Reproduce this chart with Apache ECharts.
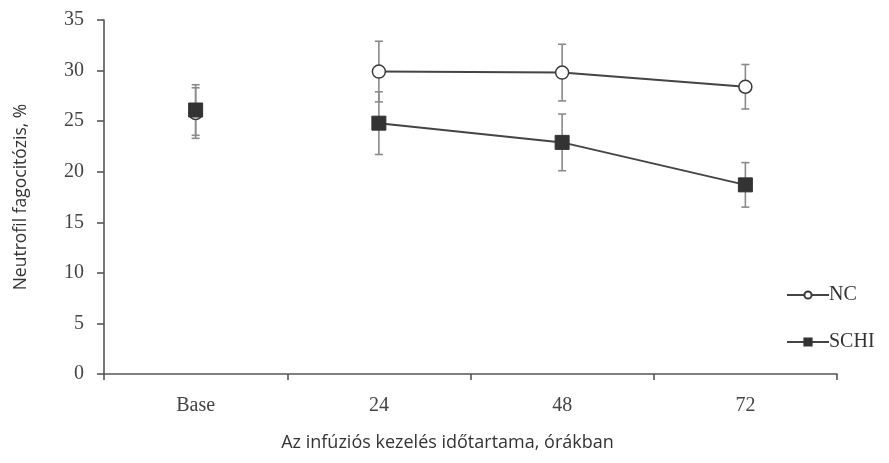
<!DOCTYPE html>
<html>
<head>
<meta charset="utf-8">
<script src="https://cdn.jsdelivr.net/npm/echarts@6/dist/echarts.min.js"></script>
<style>
  html, body { margin: 0; padding: 0; background: #fff; }
  #chart { width: 889px; height: 463px; }
</style>
</head>
<body>
<div id="chart"></div>
<script type="text/javascript">
    var categories = ['Base', '24', '48', '72'];
    var ncMean = [25.8, 29.9, 29.8, 28.4];
    var ncErr = [2.5, 3.0, 2.8, 2.2];
    var schiMean = [26.1, 24.8, 22.9, 18.7];
    var schiErr = [2.5, 3.1, 2.8, 2.2];

    var serif = 'Liberation Serif';
    var sans = 'Open Sans';

    // error bar rows: [categoryIndex, low, high]
    function errRows(mean, err) {
        var rows = [];
        for (var i = 0; i < mean.length; i++) {
            rows.push([i, mean[i] - err[i], mean[i] + err[i]]);
        }
        return rows;
    }

    function renderErr(params, api) {
        var x = api.value(0);
        var lo = api.coord([x, api.value(1)]);
        var hi = api.coord([x, api.value(2)]);
        var w = 4;
        var style = { stroke: '#8a8a8a', lineWidth: 1.6 };
        return {
            type: 'group',
            children: [
                { type: 'line', shape: { x1: hi[0], y1: hi[1], x2: lo[0], y2: lo[1] }, style: style },
                { type: 'line', shape: { x1: hi[0] - w, y1: hi[1], x2: hi[0] + w, y2: hi[1] }, style: style },
                { type: 'line', shape: { x1: lo[0] - w, y1: lo[1], x2: lo[0] + w, y2: lo[1] }, style: style }
            ]
        };
    }

    // line part skips Base, base point is separate
    function lineData(mean) {
        return mean.map(function (v, i) { return i === 0 ? '-' : v; });
    }
    function baseData(mean) {
        return mean.map(function (v, i) { return i === 0 ? v : '-'; });
    }

    var ncMarker = { color: '#fff', borderColor: '#3a3a3a', borderWidth: 1.5 };
    var schiMarker = { color: '#333', borderColor: '#333', borderWidth: 1 };

    var option = {
        animation: false,
        backgroundColor: '#fff',
        grid: { left: 104, right: 52, top: 20, bottom: 89 },
        legend: {
            orient: 'vertical',
            left: 781,
            top: 280,
            itemGap: 27,
            itemWidth: 42,
            itemHeight: 9,
            textStyle: { fontFamily: serif, fontSize: 20, color: '#333', padding: [0, 0, 0, -5] },
            data: ['NC', 'SCHI']
        },
        xAxis: {
            type: 'category',
            data: categories,
            boundaryGap: true,
            name: 'Az infúziós kezelés időtartama, órákban',
            nameLocation: 'middle',
            nameGap: 60,
            nameTextStyle: { fontFamily: sans, fontSize: 18, color: '#333', padding: [0, 46, 0, 0] },
            axisLine: { lineStyle: { color: '#555', width: 1.6 } },
            axisTick: { show: true, inside: false, length: 6, alignWithLabel: false, lineStyle: { color: '#555', width: 1.6 } },
            axisLabel: { fontFamily: serif, fontSize: 20, color: '#444', margin: 22 },
            splitLine: { show: false }
        },
        yAxis: {
            type: 'value',
            min: 0,
            max: 35,
            interval: 5,
            name: 'Neutrofil fagocitózis, %',
            nameLocation: 'middle',
            nameGap: 74,
            nameTextStyle: { fontFamily: sans, fontSize: 17.5, color: '#333' },
            axisLine: { show: true, lineStyle: { color: '#555', width: 1.6 } },
            axisTick: { show: true, inside: false, length: 7, lineStyle: { color: '#555', width: 1.6 } },
            axisLabel: { fontFamily: serif, fontSize: 20, color: '#444', margin: 20 },
            splitLine: { show: false }
        },
        series: [
            {
                type: 'custom',
                name: 'NC err',
                renderItem: renderErr,
                data: errRows(ncMean, ncErr),
                encode: { x: 0, y: [1, 2] },
                z: 1,
                silent: true
            },
            {
                type: 'custom',
                name: 'SCHI err',
                renderItem: renderErr,
                data: errRows(schiMean, schiErr),
                encode: { x: 0, y: [1, 2] },
                z: 1,
                silent: true
            },
            {
                name: 'NC',
                type: 'line',
                data: lineData(ncMean),
                symbol: 'circle',
                symbolSize: 13,
                showAllSymbol: true,
                lineStyle: { color: '#444', width: 2 },
                itemStyle: ncMarker,
                z: 3
            },
            {
                name: 'NC',
                type: 'line',
                data: baseData(ncMean),
                symbol: 'circle',
                symbolSize: 13,
                lineStyle: { width: 0 },
                itemStyle: ncMarker,
                z: 3
            },
            {
                name: 'SCHI',
                type: 'line',
                data: lineData(schiMean),
                symbol: 'rect',
                symbolSize: 14,
                showAllSymbol: true,
                lineStyle: { color: '#444', width: 2 },
                itemStyle: schiMarker,
                z: 4
            },
            {
                name: 'SCHI',
                type: 'line',
                data: baseData(schiMean),
                symbol: 'rect',
                symbolSize: 14,
                lineStyle: { width: 0 },
                itemStyle: schiMarker,
                z: 4
            }
        ]
    };

    var chart = echarts.init(document.getElementById('chart'));
    chart.setOption(option);
</script>
</body>
</html>
